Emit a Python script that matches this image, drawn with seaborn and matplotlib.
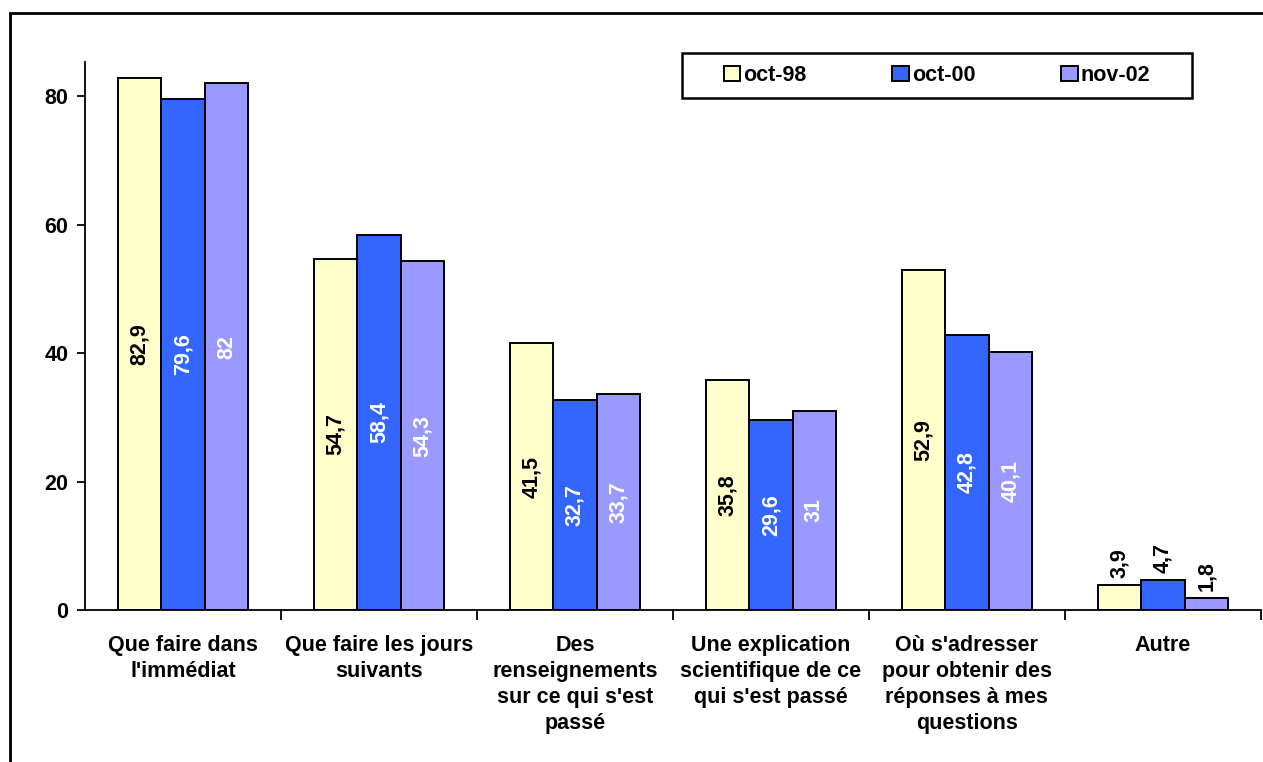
import pandas as pd
import matplotlib.pyplot as plt
import seaborn as sns
from matplotlib.patches import Rectangle

# DATA
categories = [
    "Que faire dans\nl'immédiat",
    "Que faire les jours\nsuivants",
    "Des\nrenseignements\nsur ce qui s'est\npassé",
    "Une explication\nscientifique de ce\nqui s'est passé",
    "Où s'adresser\npour obtenir des\nréponses à mes\nquestions",
    "Autre",
]
periods = ["oct-98", "oct-00", "nov-02"]
oct_98 = [82.9, 54.7, 41.5, 35.8, 52.9, 3.9]
oct_00 = [79.6, 58.4, 32.7, 29.6, 42.8, 4.7]
nov_02 = [82.0, 54.3, 33.7, 31.0, 40.1, 1.8]
y_ticks = [0, 20, 40, 60, 80]

colors = ["#FFFFCC", "#3366FF", "#9999FF"]
label_colors = ["black", "white", "white"]

rows = []
for period, values in zip(periods, [oct_98, oct_00, nov_02]):
    for cat, v in zip(categories, values):
        rows.append({"Catégorie": cat, "Période": period, "Valeur": v})
df = pd.DataFrame(rows)

sns.set_style("white")
plt.rcParams["font.family"] = ["Liberation Sans", "DejaVu Sans"]
plt.rcParams["font.weight"] = "bold"
plt.rcParams["text.color"] = "black"
plt.rcParams["xtick.color"] = "black"
plt.rcParams["ytick.color"] = "black"
plt.rcParams["axes.edgecolor"] = "black"

FS = 15.5

fig = plt.figure(figsize=(12.63, 7.62), dpi=100)
ax = fig.add_axes([0.0673, 0.1995, 0.931, 0.719])

sns.barplot(
    data=df, x="Catégorie", y="Valeur", hue="Période",
    order=categories, hue_order=periods,
    palette=colors, saturation=1, width=0.667, gap=0,
    edgecolor="black", linewidth=1.4, ax=ax, legend=True,
)

# data labels
for i, container in enumerate(ax.containers):
    for j, bar in enumerate(container.patches):
        v = bar.get_height()
        txt = f"{v:g}".replace(".", ",")
        cx = bar.get_x() + bar.get_width() / 2
        if j == len(categories) - 1:
            ax.annotate(txt, (cx, v), xytext=(0, 5), textcoords="offset points",
                        rotation=90, ha="center", va="bottom",
                        fontsize=FS, fontweight="bold", color="black")
        else:
            ax.text(cx, v / 2, txt, rotation=90, ha="center", va="center",
                    fontsize=FS, fontweight="bold", color=label_colors[i])

ax.set_xlim(-0.5, len(categories) - 0.5)
ax.set_ylim(0, 85.3)
ax.set_yticks(y_ticks)
ax.set_xlabel("")
ax.set_ylabel("")

ax.tick_params(axis="y", labelsize=FS, length=6, width=1.3, direction="out",
               left=True, pad=6)
ax.tick_params(axis="x", which="major", labelsize=FS, length=0, pad=18)
ax.set_xticks([k - 0.5 for k in range(1, len(categories) + 1)], minor=True)
ax.tick_params(axis="x", which="minor", length=7, width=1.3, direction="out",
               bottom=True)
for lbl in ax.get_xticklabels():
    lbl.set_fontweight("bold")
    lbl.set_linespacing(1.32)
    lbl.set_va("top")
for lbl in ax.get_yticklabels():
    lbl.set_fontweight("bold")

for s in ["top", "right"]:
    ax.spines[s].set_visible(False)
for s in ["left", "bottom"]:
    ax.spines[s].set_color("black")
    ax.spines[s].set_linewidth(1.3)

# legend (frameless, box drawn separately to get the wide side padding)
handles, labels = ax.get_legend_handles_labels()
ax.legend_.remove()
fig.legend(
    handles, labels, loc="center", bbox_to_anchor=(0.7419, 0.9009),
    ncol=3, frameon=False,
    prop={"size": FS, "weight": "bold"},
    handlelength=0.75, handleheight=0.75, handletextpad=0.15,
    columnspacing=4.0, borderpad=0.6, borderaxespad=0,
)
fig.patches.append(Rectangle((682 / 1263, 1 - 98 / 762), 510 / 1263, 45 / 762,
                             transform=fig.transFigure, fill=False,
                             edgecolor="black", linewidth=1.8))

# outer chart border
fig.patches.append(Rectangle((10 / 1263, -0.2), 1.2, 1.2 - 13 / 762,
                             transform=fig.transFigure, fill=False,
                             edgecolor="black", linewidth=2, clip_on=False))

fig.savefig("out.png", dpi=100)
